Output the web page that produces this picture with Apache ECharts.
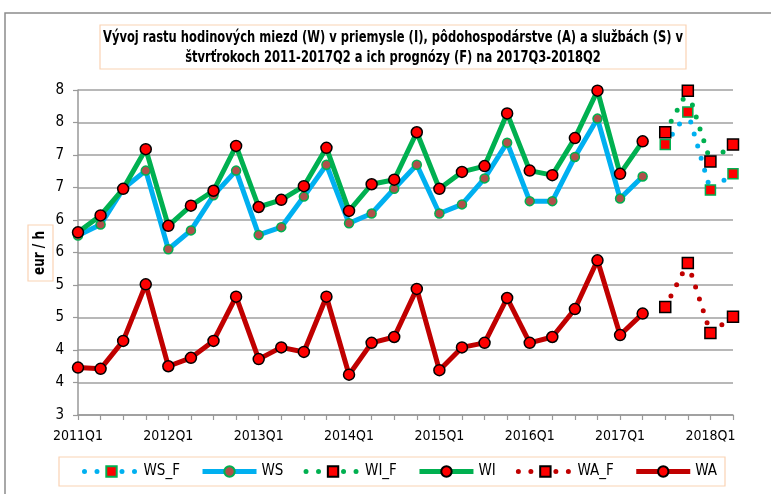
<!DOCTYPE html>
<html>
<head>
<meta charset="utf-8">
<script src="https://cdn.jsdelivr.net/npm/echarts@6/dist/echarts.min.js"></script>
<style>
html,body{margin:0;padding:0;background:#fff;}
#chart{width:771px;height:494px;}
</style>
</head>
<body>
<div id="chart"></div>
<script>
var categories = ['2011Q1','2011Q2','2011Q3','2011Q4','2012Q1','2012Q2','2012Q3','2012Q4',
  '2013Q1','2013Q2','2013Q3','2013Q4','2014Q1','2014Q2','2014Q3','2014Q4',
  '2015Q1','2015Q2','2015Q3','2015Q4','2016Q1','2016Q2','2016Q3','2016Q4',
  '2017Q1','2017Q2','2017Q3','2017Q4','2018Q1','2018Q2'];

var WS = [5.76,5.93,6.48,6.76, 5.55,5.84,6.38,6.76, 5.77,5.89,6.36,6.85, 5.95,6.10,6.48,6.85,
  6.10,6.24,6.64,7.19, 6.29,6.29,6.97,7.56, 6.33,6.67];
var WI = [5.81,6.07,6.48,7.09, 5.91,6.22,6.45,7.14, 6.20,6.31,6.52,7.11, 6.14,6.55,6.62,7.35,
  6.48,6.74,6.83,7.64, 6.76,6.69,7.26,7.99, 6.71,7.21];
var WA = [3.73,3.71,4.14,5.01, 3.75,3.88,4.14,4.82, 3.86,4.04,3.97,4.82, 3.62,4.11,4.20,4.94,
  3.69,4.04,4.11,4.80, 4.11,4.20,4.63,5.38, 4.23,4.56];
var forecastStart = 26; // 2017Q3
var WS_F = [7.16,7.66,6.46,6.71];
var WI_F = [7.35,7.99,6.90,7.16];
var WA_F = [4.66,5.34,4.26,4.51];

var titleLine1 = 'Vývoj rastu hodinových miezd (W) v priemysle (I), pôdohospodárstve (A) a službách (S) v';
var titleLine2 = 'štvrťrokoch 2011-2017Q2 a ich prognózy (F) na 2017Q3-2018Q2';
var yName = 'eur / h';
var legendNames = ['WS_F','WS','WI_F','WI','WA_F','WA'];

function actual(arr){ return categories.map(function(c,i){ return i < arr.length ? arr[i] : '-'; }); }
function forecast(arr){ return categories.map(function(c,i){ var k = i - forecastStart; return (k >= 0 && k < arr.length) ? arr[k] : '-'; }); }

// font detection & sizing
var mctx = document.createElement('canvas').getContext('2d');
function avail(f){
  mctx.font = '16px monospace'; var a = mctx.measureText('abcdefWQ0123 xyz').width;
  mctx.font = "16px '" + f + "', monospace"; var b = mctx.measureText('abcdefWQ0123 xyz').width;
  return a !== b;
}
var FAM = ['Liberation Sans Narrow','DejaVu Sans Condensed','Liberation Sans','Arial'].filter(avail)[0] || 'sans-serif';
var FONT = "'" + FAM + "', sans-serif";
function w(text, size, weight){ mctx.font = (weight||'normal') + ' ' + size + 'px ' + FONT; return mctx.measureText(text).width; }
var axisFS = Math.min(16, Math.max(14, Math.round(16 * 46 / w('2011Q1', 16))));
var legFS = 15;
var legIconW = 54, legTextGap = 5;
var legTextSum = legendNames.reduce(function(s,n){ return s + w(n, legFS); }, 0);
var legGap = Math.max(8, (620 - 6*legIconW - 6*legTextGap - legTextSum) / 5);
var TFS = 15;
var titleScale = Math.min(1, 580 / w(titleLine1, TFS, 'bold'));
var yScale = Math.min(1, 44 / w(yName, TFS, 'bold'));

var BLUE = '#00b0f0', GREEN = '#00b050', DRED = '#c00000', RED = '#ff0000';
var DOT = [0, 12.5];

var chart = echarts.init(document.getElementById('chart'), null, {renderer:'canvas'});
chart.setOption({
  animation: false,
  backgroundColor: '#fff',
  textStyle: {fontFamily: FONT},
  graphic: [
    {type:'rect', shape:{x:5, y:13, width:800, height:520}, style:{fill:'none', stroke:'#8c8c8c', lineWidth:1.5}, silent:true},
    {type:'rect', shape:{x:100, y:25, width:586, height:44}, style:{fill:'#fff', stroke:'#fad3b4', lineWidth:1.2}, silent:true},
    {type:'text', x:393, y:38, scaleX:titleScale, style:{text:titleLine1, fill:'#000', font:"bold " + TFS + "px " + FONT, textAlign:'center', textVerticalAlign:'middle'}, silent:true},
    {type:'text', x:393, y:58, scaleX:titleScale, style:{text:titleLine2, fill:'#000', font:"bold " + TFS + "px " + FONT, textAlign:'center', textVerticalAlign:'middle'}, silent:true},
    {type:'rect', shape:{x:28, y:225, width:25, height:56}, style:{fill:'#fff', stroke:'#fad3b4', lineWidth:1.2}, silent:true},
    {type:'text', x:40.5, y:253, rotation:Math.PI/2, scaleX:yScale, style:{text:yName, fill:'#000', font:"bold " + TFS + "px " + FONT, textAlign:'center', textVerticalAlign:'middle'}, silent:true}
  ],
  legend: {
    left: 59, top: 457,
    padding: [7, 8, 7, 23],
    borderColor: '#fad3b4', borderWidth: 1.2,
    itemWidth: legIconW, itemHeight: 13, itemGap: legGap,
    lineStyle: {width: 5},
    textStyle: {fontSize: legFS, color:'#000', fontFamily: FONT},
    data: legendNames
  },
  grid: {left:78, right:38, top:90, bottom:79},
  xAxis: {
    type:'category', data: categories, boundaryGap:false,
    axisLine:{lineStyle:{color:'#999', width:1.5}},
    axisTick:{show:true, interval:0, length:5, lineStyle:{color:'#999', width:1.2}},
    axisLabel:{interval:3, color:'#000', fontSize:axisFS, margin:14, fontFamily:FONT},
    splitLine:{show:false}
  },
  yAxis: {
    type:'value', min:3, max:8, interval:0.5,
    axisLine:{show:true, lineStyle:{color:'#999', width:1.5}},
    axisTick:{show:true, length:5, lineStyle:{color:'#999', width:1.2}},
    axisLabel:{color:'#000', fontSize:axisFS + 1, margin:14, fontFamily:FONT, formatter:function(v){return String(Math.round(v));}},
    splitLine:{lineStyle:{color:'#a0a0a0', width:1.5}}
  },
  series: [
    {name:'WS_F', type:'line', data: forecast(WS_F), symbol:'rect', symbolSize:10,
      lineStyle:{color:BLUE, width:5, type:DOT, cap:'round'},
      itemStyle:{color:RED, borderColor:GREEN, borderWidth:1.5}},
    {name:'WS', type:'line', data: actual(WS), symbol:'circle', symbolSize:9,
      lineStyle:{color:BLUE, width:5},
      itemStyle:{color:'#b0504a', borderColor:GREEN, borderWidth:1.5}},
    {name:'WI_F', type:'line', data: forecast(WI_F), symbol:'rect', symbolSize:11,
      lineStyle:{color:GREEN, width:5, type:DOT, cap:'round'},
      itemStyle:{color:RED, borderColor:'#000', borderWidth:1.5}},
    {name:'WI', type:'line', data: actual(WI), symbol:'circle', symbolSize:11,
      lineStyle:{color:GREEN, width:5},
      itemStyle:{color:RED, borderColor:'#000', borderWidth:1.5}},
    {name:'WA_F', type:'line', data: forecast(WA_F), symbol:'rect', symbolSize:11,
      lineStyle:{color:DRED, width:5, type:DOT, cap:'round'},
      itemStyle:{color:RED, borderColor:'#000', borderWidth:1.5}},
    {name:'WA', type:'line', data: actual(WA), symbol:'circle', symbolSize:11,
      lineStyle:{color:DRED, width:5},
      itemStyle:{color:RED, borderColor:'#000', borderWidth:1.5}}
  ]
});
</script>
</body>
</html>
